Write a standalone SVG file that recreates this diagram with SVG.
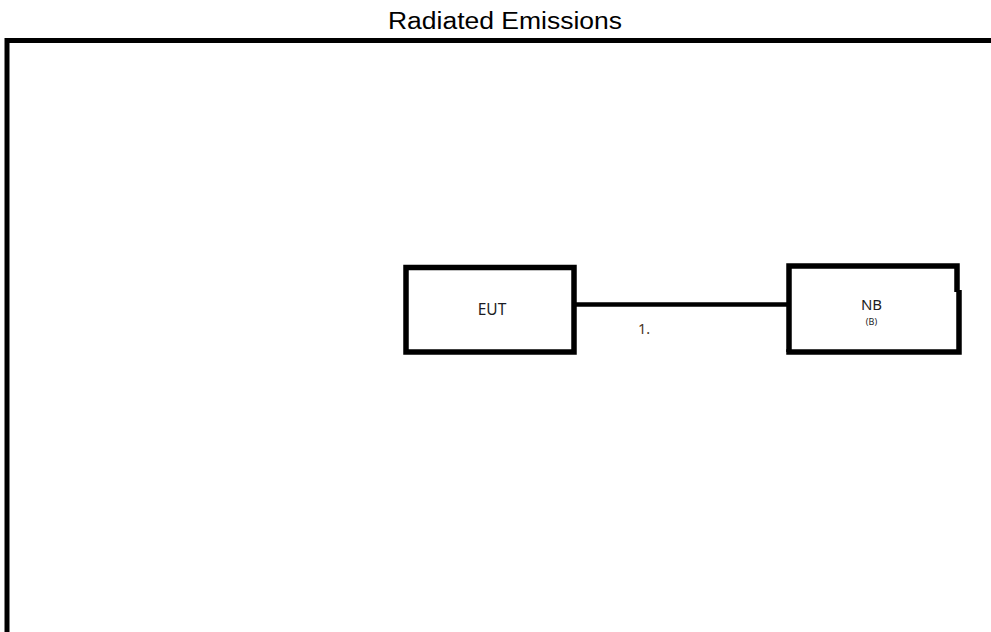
<svg xmlns="http://www.w3.org/2000/svg" width="991" height="632" viewBox="0 0 991 632">
<style>
.frame{fill:none;stroke:#000;stroke-width:5}
.box{fill:#fff;stroke:#000;stroke-width:5.5}
.lbl{font-family:"Noto Sans","Open Sans",sans-serif;fill:#1c1c24}
.title{font-family:"Liberation Sans",Arial,sans-serif;fill:#000}
</style>
<rect width="991" height="632" fill="#fff"/>
<text class="title" x="388" y="28.5" font-size="23.5" textLength="234" lengthAdjust="spacingAndGlyphs">Radiated Emissions</text>
<path class="frame" d="M7,632 V40.5 H991"/>
<g id="connectors">
<line x1="576" y1="304.5" x2="789" y2="304.5" stroke="#000" stroke-width="4.5"/>
<text x="638" y="334" font-family="'Noto Sans','Open Sans',sans-serif" font-size="14.5" fill="#4a3320">1.</text>
</g>
<g id="eut">
<rect class="box" x="406" y="267.5" width="168" height="84.5"/>
<text class="lbl" x="492" y="314.5" font-size="15.5" text-anchor="middle">EUT</text>
</g>
<g id="nb">
<path fill="#fff" d="M789,266 H957 V291 H959 V352 H789 Z"/>
<path fill="none" stroke="#000" stroke-width="5.5" stroke-linejoin="miter" d="M789,352 V266 H957 V292"/>
<path fill="none" stroke="#000" stroke-width="5.5" d="M959,290 V352 H786.25"/>
<text class="lbl" x="871.5" y="310" font-size="15" text-anchor="middle">NB</text>
<text class="lbl" x="871.5" y="324.5" font-size="9" text-anchor="middle">(B)</text>
</g>
</svg>
